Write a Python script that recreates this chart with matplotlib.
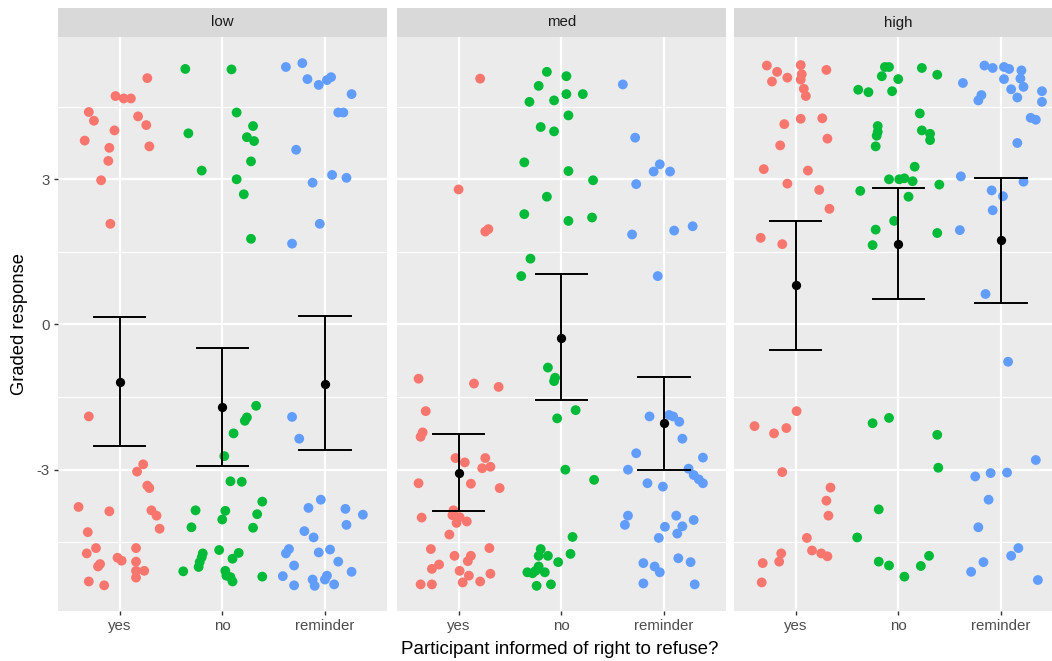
import matplotlib
matplotlib.use("Agg")
import matplotlib.pyplot as plt
from matplotlib.patches import Rectangle
import numpy as np

plt.rcParams["font.family"] = ["Liberation Sans", "DejaVu Sans"]
plt.rcParams["axes.unicode_minus"] = False

facets = ["low", "med", "high"]
categories = ["yes", "no", "reminder"]
colors = ["#F8766D", "#00BA38", "#619CFF"]

# ---- data: jittered responses (y) and horizontal jitter (dx) ----
low_yes_y = [5.09, 4.72, 4.67, 4.67, 4.39, 4.21, 4.30, 4.12, 4.01, 3.80, 3.65, 3.68, 3.38, 2.98, 2.08, -1.90, -2.89, -3.04, -3.33, -3.38, -3.77, -3.86, -3.84, -3.95, -4.22, -4.29, -4.62, -4.73, -4.62, -4.95, -5.00, -4.82, -4.88, -4.90, -5.09, -5.09, -5.23, -5.31, -5.39]
low_yes_dx = [0.27, -0.04, 0.04, 0.11, -0.30, -0.25, 0.18, 0.26, -0.05, -0.34, -0.10, 0.29, -0.11, -0.18, -0.09, -0.30, 0.23, 0.17, 0.27, 0.29, -0.40, -0.10, 0.31, 0.36, 0.39, -0.31, -0.23, -0.32, 0.16, -0.19, -0.21, -0.02, 0.02, 0.16, 0.16, 0.24, 0.16, -0.30, -0.15]
low_no_y = [5.28, 5.27, 4.38, 3.95, 4.10, 3.87, 3.79, 3.37, 3.18, 3.00, 2.69, 1.77, -1.68, -1.92, -1.99, -2.25, -2.72, -3.24, -3.25, -3.66, -3.84, -3.85, -4.03, -3.92, -4.19, -4.20, -4.73, -4.81, -4.91, -5.01, -4.66, -4.72, -4.84, -5.10, -5.09, -5.19, -5.22, -5.31, -5.21]
low_no_dx = [-0.36, 0.09, 0.14, -0.33, 0.30, 0.24, 0.31, 0.28, -0.20, 0.14, 0.21, 0.28, 0.33, 0.24, 0.22, 0.11, 0.02, 0.08, 0.19, 0.39, -0.26, 0.03, 0.00, 0.34, -0.30, 0.30, -0.19, -0.20, -0.22, -0.23, -0.03, 0.16, 0.10, -0.38, 0.03, 0.04, 0.08, 0.10, 0.39]
low_rem_y = [5.32, 5.40, 5.07, 4.95, 5.05, 5.11, 4.76, 4.38, 4.38, 3.61, 2.93, 3.09, 3.03, 2.08, 1.67, -1.91, -2.36, -3.62, -3.79, -3.81, -3.93, -4.14, -4.27, -4.40, -4.64, -4.73, -4.71, -4.65, -4.90, -4.98, -5.11, -5.20, -5.39, -5.27, -5.40, -5.27, -5.19, -5.37]
low_rem_dx = [-0.38, -0.22, -0.17, -0.06, 0.02, 0.06, 0.26, 0.13, 0.18, -0.28, -0.12, 0.07, 0.21, -0.05, -0.32, -0.32, -0.25, -0.04, -0.16, 0.20, 0.37, 0.21, -0.20, -0.11, -0.35, -0.38, -0.06, 0.05, 0.13, -0.30, 0.26, -0.41, -0.30, -0.12, -0.10, 0.00, 0.02, 0.09]

med_yes_y = [5.08, 2.79, 1.92, 1.97, -1.12, -1.22, -1.29, -1.79, -2.23, -2.32, -2.76, -2.85, -2.76, -2.97, -2.94, -3.28, -3.29, -3.38, -3.99, -3.84, -3.94, -3.98, -4.10, -4.07, -4.34, -4.64, -4.62, -4.78, -4.78, -4.89, -4.96, -5.05, -5.09, -5.19, -5.15, -5.33, -5.31, -5.37, -5.37]
med_yes_dx = [0.21, 0.00, 0.26, 0.29, -0.39, 0.15, 0.39, -0.32, -0.35, -0.37, -0.03, 0.06, 0.26, 0.23, 0.31, -0.39, 0.12, 0.40, -0.36, -0.05, -0.06, 0.01, -0.02, 0.08, -0.09, -0.27, 0.30, -0.04, 0.12, 0.09, -0.19, -0.26, 0.01, 0.10, 0.31, 0.04, 0.21, -0.37, -0.26]
med_no_y = [5.22, 5.13, 4.93, 4.60, 4.63, 4.76, 4.76, 4.32, 4.08, 3.99, 3.35, 3.17, 2.98, 2.64, 2.28, 2.14, 2.21, 1.36, 1.00, -0.89, -1.10, -1.17, -1.77, -1.94, -3.00, -3.21, -4.39, -4.64, -4.78, -4.78, -4.74, -4.91, -5.00, -5.09, -5.12, -5.14, -5.12, -5.40, -5.37]
med_no_dx = [-0.14, 0.05, -0.22, -0.31, -0.07, 0.05, 0.21, 0.07, -0.20, -0.07, -0.36, 0.07, 0.31, -0.14, -0.36, 0.07, 0.30, -0.30, -0.39, -0.13, -0.06, -0.07, 0.14, -0.04, 0.04, 0.32, 0.11, -0.20, -0.22, -0.13, 0.09, -0.03, -0.22, -0.25, -0.33, -0.28, -0.16, -0.24, -0.10]
med_rem_y = [4.96, 3.86, 3.31, 3.16, 3.16, 2.90, 2.03, 1.94, 1.86, 1.00, -1.90, -1.87, -1.90, -2.01, -2.36, -2.66, -2.75, -3.00, -2.98, -3.11, -3.20, -3.28, -3.28, -3.35, -3.95, -4.14, -3.95, -4.04, -4.18, -4.17, -4.32, -4.41, -4.93, -5.00, -5.12, -4.83, -4.91, -5.35, -5.37]
med_rem_dx = [-0.40, -0.28, -0.04, -0.10, 0.06, -0.27, 0.28, 0.10, -0.31, -0.06, -0.14, 0.05, 0.09, 0.15, 0.18, -0.27, 0.38, -0.35, 0.24, 0.29, 0.34, 0.38, -0.16, -0.01, -0.35, -0.38, 0.12, 0.29, 0.01, 0.18, 0.13, -0.05, -0.20, -0.09, -0.04, 0.14, 0.26, -0.20, 0.30]

high_yes_y = [5.35, 5.22, 5.02, 5.10, 5.36, 5.17, 5.06, 4.87, 4.72, 5.26, 4.25, 4.26, 4.14, 3.84, 3.70, 3.21, 3.18, 2.91, 2.78, 2.39, 1.79, 1.66, -1.79, -2.10, -2.25, -2.14, -3.05, -3.37, -3.64, -3.95, -4.41, -4.67, -4.73, -4.79, -4.73, -4.90, -4.93, -5.33]
high_yes_dx = [-0.28, -0.18, -0.23, -0.08, 0.05, 0.06, 0.05, 0.08, 0.10, 0.30, 0.05, 0.26, -0.11, 0.31, -0.15, -0.31, 0.12, -0.08, 0.23, 0.33, -0.34, -0.13, 0.01, -0.40, -0.21, -0.09, -0.13, 0.34, 0.30, 0.32, 0.11, 0.16, 0.25, 0.31, -0.14, -0.16, -0.32, -0.33]
high_no_y = [5.32, 5.32, 5.13, 5.07, 5.30, 5.16, 4.85, 4.80, 4.82, 4.36, 4.10, 3.98, 3.90, 3.68, 4.01, 3.94, 3.81, 3.26, 3.00, 3.00, 3.02, 2.96, 2.89, 2.76, 2.64, 2.14, 1.96, 1.89, 1.64, -2.04, -1.93, -2.28, -2.96, -3.82, -4.40, -4.90, -4.98, -5.21, -4.99, -4.78]
high_no_dx = [-0.13, -0.09, -0.16, 0.00, 0.23, 0.38, -0.39, -0.29, -0.06, 0.21, -0.20, -0.20, -0.21, -0.22, 0.23, 0.31, 0.31, 0.16, -0.09, 0.01, 0.06, 0.14, 0.40, -0.37, 0.10, -0.04, -0.22, 0.38, -0.25, -0.25, -0.09, 0.38, 0.39, -0.19, -0.40, -0.19, -0.09, 0.06, 0.22, 0.30]
high_rem_y = [5.35, 5.30, 5.32, 5.28, 5.25, 5.07, 5.08, 4.91, 4.86, 4.69, 4.82, 4.60, 4.74, 4.63, 4.99, 4.27, 4.23, 3.75, 3.06, 2.95, 2.77, 2.65, 2.36, 1.95, 0.63, -0.77, -2.80, -3.14, -3.07, -3.06, -3.62, -4.19, -4.62, -4.78, -4.91, -5.11, -5.28]
high_rem_dx = [-0.16, -0.08, 0.03, 0.08, 0.20, 0.03, 0.19, 0.22, 0.10, 0.16, 0.40, 0.40, -0.19, -0.22, -0.37, 0.29, 0.34, 0.16, -0.39, 0.22, -0.09, 0.02, -0.08, -0.40, -0.15, 0.07, 0.34, -0.25, -0.10, 0.06, -0.12, -0.22, 0.17, 0.10, -0.17, -0.29, 0.36]

# ---- summary: means and interval bounds ----
low_mean = [-1.18, -1.70, -1.22]
low_lo = [-2.51, -2.92, -2.60]
low_hi = [0.15, -0.49, 0.18]
med_mean = [-3.06, -0.27, -2.04]
med_lo = [-3.86, -1.57, -3.00]
med_hi = [-2.27, 1.04, -1.08]
high_mean = [0.81, 1.66, 1.74]
high_lo = [-0.52, 0.52, 0.45]
high_hi = [2.14, 2.82, 3.02]

points = {
    "low": [(low_yes_dx, low_yes_y), (low_no_dx, low_no_y), (low_rem_dx, low_rem_y)],
    "med": [(med_yes_dx, med_yes_y), (med_no_dx, med_no_y), (med_rem_dx, med_rem_y)],
    "high": [(high_yes_dx, high_yes_y), (high_no_dx, high_no_y), (high_rem_dx, high_rem_y)],
}
summary = {
    "low": (low_mean, low_lo, low_hi),
    "med": (med_mean, med_lo, med_hi),
    "high": (high_mean, high_lo, high_hi),
}

W, H = 1052, 661
fig = plt.figure(figsize=(W / 100, H / 100), dpi=100)
fig.patch.set_facecolor("white")

panel_left = [58, 397, 734]
panel_w = 328.5
panel_top, panel_bot = 37, 611
strip_h = 29

for i, f in enumerate(facets):
    ax = fig.add_axes([panel_left[i] / W, (H - panel_bot) / H, panel_w / W, (panel_bot - panel_top) / H])
    ax.set_facecolor("#EBEBEB")
    for s in ax.spines.values():
        s.set_visible(False)
    ax.set_xlim(0.4, 3.6)
    ax.set_ylim(-5.92, 5.94)
    xpos = np.arange(1, 4)
    ax.set_xticks(xpos)
    ax.set_xticklabels(categories)
    ax.set_yticks([-3, 0, 3])
    ax.set_yticks([-4.5, -1.5, 1.5, 4.5], minor=True)
    ax.set_xticks([], minor=True)
    ax.grid(which="major", color="white", linewidth=1.6)
    ax.grid(which="minor", axis="y", color="white", linewidth=0.8)
    ax.set_axisbelow(True)
    ax.tick_params(axis="both", which="major", length=3, width=1.0, color="#333333",
                   labelsize=10.8, labelcolor="#4D4D4D", pad=3)
    ax.tick_params(axis="y", which="minor", length=0)
    if i > 0:
        ax.tick_params(axis="y", which="major", left=False, labelleft=False)

    for k, (dx, yv) in enumerate(points[f]):
        xs = xpos[k] + np.asarray(dx)
        ax.scatter(xs, yv, s=50, color=colors[k], edgecolors="none", zorder=3)

    m, lo, hi = summary[f]
    for k in range(3):
        x = xpos[k]
        ax.plot([x, x], [lo[k], hi[k]], color="black", linewidth=1.4, zorder=4)
        ax.plot([x - 0.25, x + 0.25], [lo[k], lo[k]], color="black", linewidth=1.4, zorder=4)
        ax.plot([x - 0.25, x + 0.25], [hi[k], hi[k]], color="black", linewidth=1.4, zorder=4)
    ax.scatter(xpos, m, s=32, color="black", zorder=5)

    sh = strip_h / (panel_bot - panel_top)
    ax.add_patch(Rectangle((0, 1), 1, sh, transform=ax.transAxes, facecolor="#D9D9D9",
                           edgecolor="none", clip_on=False))
    ax.text(0.5, 1 + sh / 2, f, transform=ax.transAxes, ha="center", va="center",
            fontsize=10.8, color="#1A1A1A")

fig.text(20 / W, 1 - 324 / H, "Graded response", rotation=90, ha="center", va="center",
         fontsize=13.2, color="black")
fig.text(560 / W, 1 - 649 / H, "Participant informed of right to refuse?", ha="center",
         va="center", fontsize=13.5, color="black")

fig.savefig("out.png", dpi=100, facecolor="white")
